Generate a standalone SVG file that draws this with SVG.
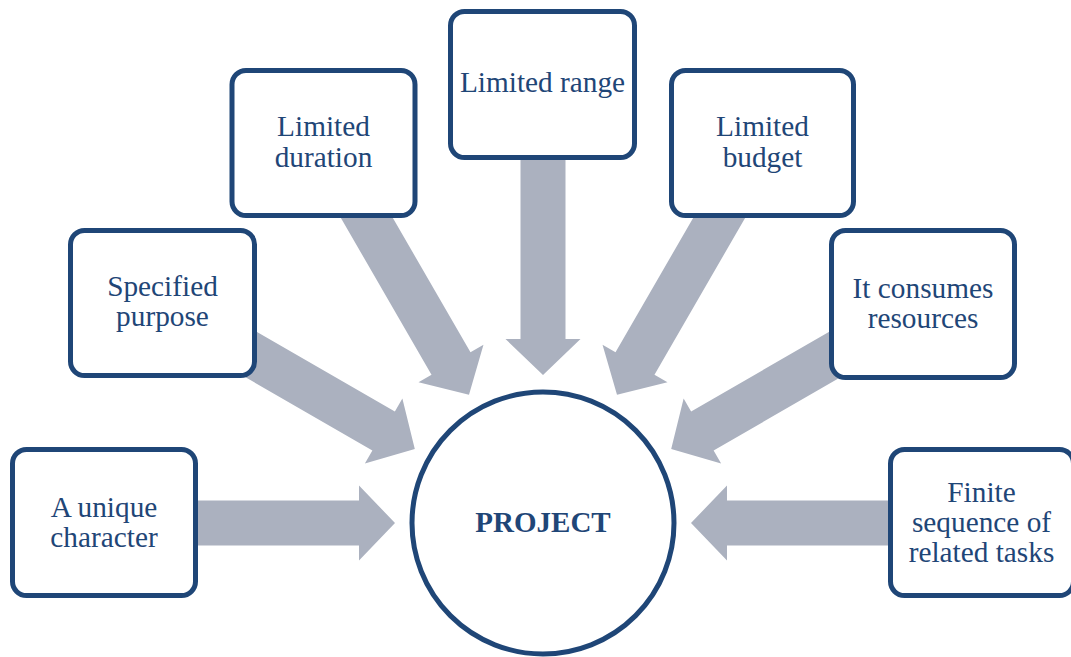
<svg xmlns="http://www.w3.org/2000/svg" xmlns:xlink="http://www.w3.org/1999/xlink" width="1071" height="657" viewBox="0 0 1071 657">
  <style>
    .box { fill: #ffffff; stroke: #1F4677; stroke-width: 5; }
    .lbl { font-family: "Liberation Serif", "Times New Roman", serif; font-size: 29.3px; fill: #1F4677; text-anchor: middle; }
    .title { font-family: "Liberation Serif", "Times New Roman", serif; font-size: 29px; font-weight: bold; fill: #1F4677; text-anchor: middle; }
    .arr { fill: #ABB1BF; }
  </style>
  <defs>
    <path id="arr" class="arr" d="M0,0 L-36,-37.5 L-36,-22.5 L-225,-22.5 L-225,22.5 L-36,22.5 L-36,37.5 Z"/>
  </defs>
  <rect width="1071" height="657" fill="#ffffff"/>
  <g id="connectors">
    <use href="#arr" xlink:href="#arr" transform="translate(395,523) rotate(0)"/>
    <use href="#arr" xlink:href="#arr" transform="translate(414.8,449) rotate(30)"/>
    <use href="#arr" xlink:href="#arr" transform="translate(469,394.8) rotate(60)"/>
    <use href="#arr" xlink:href="#arr" transform="translate(543,375) rotate(90)"/>
    <use href="#arr" xlink:href="#arr" transform="translate(617,394.8) rotate(120)"/>
    <use href="#arr" xlink:href="#arr" transform="translate(671.2,449) rotate(150)"/>
    <use href="#arr" xlink:href="#arr" transform="translate(691,523) rotate(180)"/>
  </g>
  <g id="node-unique">
    <rect class="box" x="12.5" y="449.5" width="183" height="146" rx="14"/>
    <text class="lbl" x="104" y="517">A unique</text>
    <text class="lbl" x="104" y="547">character</text>
  </g>
  <g id="node-purpose">
    <rect class="box" x="70.5" y="230.5" width="184" height="145" rx="14"/>
    <text class="lbl" x="162.5" y="296">Specified</text>
    <text class="lbl" x="162.5" y="326">purpose</text>
  </g>
  <g id="node-duration">
    <rect class="box" x="232" y="70.5" width="183" height="145" rx="14"/>
    <text class="lbl" x="323.5" y="136">Limited</text>
    <text class="lbl" x="323.5" y="167">duration</text>
  </g>
  <g id="node-range">
    <rect class="box" x="450.5" y="11.5" width="184" height="146" rx="14"/>
    <text class="lbl" x="542.5" y="92">Limited range</text>
  </g>
  <g id="node-budget">
    <rect class="box" x="671.5" y="70.5" width="182" height="145" rx="14"/>
    <text class="lbl" x="762.5" y="136">Limited</text>
    <text class="lbl" x="762.5" y="167">budget</text>
  </g>
  <g id="node-resources">
    <rect class="box" x="831.5" y="230.5" width="183" height="147" rx="14"/>
    <text class="lbl" x="923" y="298">It consumes</text>
    <text class="lbl" x="923" y="328">resources</text>
  </g>
  <g id="node-tasks">
    <rect class="box" x="890.5" y="449.5" width="183" height="146" rx="14"/>
    <text class="lbl" x="981.5" y="502">Finite</text>
    <text class="lbl" x="981.5" y="532">sequence of</text>
    <text class="lbl" x="981.5" y="562">related tasks</text>
  </g>
  <g id="node-project">
    <circle class="box" cx="543" cy="523" r="131"/>
    <text class="title" x="543" y="532">PROJECT</text>
  </g>
</svg>
